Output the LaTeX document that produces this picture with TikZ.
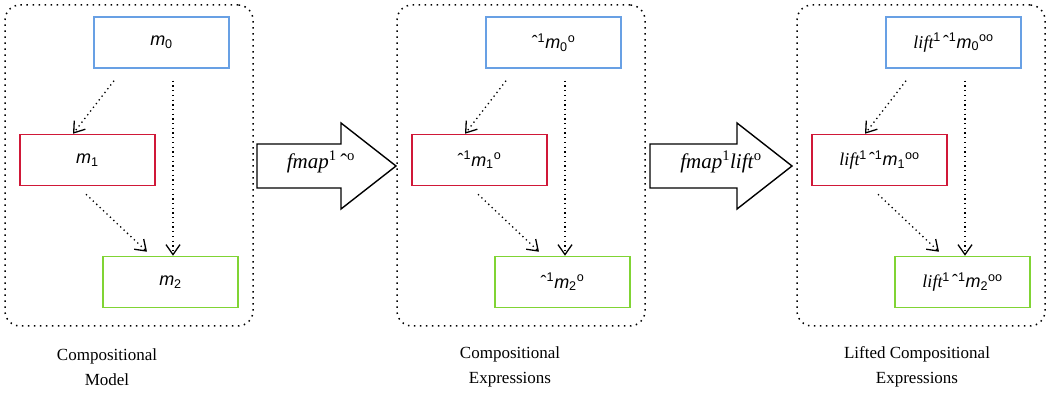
\documentclass[tikz,border=0pt]{standalone}
\usepackage{fontspec}
\setmainfont{Liberation Serif}
\setsansfont{Liberation Sans}
\usepackage{tikz}
\usetikzlibrary{arrows.meta}
\usetikzlibrary{calc}
\definecolor{mblue}{RGB}{104,160,228}
\definecolor{mred}{RGB}{208,24,56}
\definecolor{mgreen}{RGB}{128,212,52}
\tikzset{
  frame/.style = {draw, line width=1.5pt, dash pattern=on 1.5pt off 4.5pt,
    rounded corners=15pt, minimum width=248pt, minimum height=321pt}
}
\tikzset{
  mbox/.style = {draw=#1, line width=1.5pt, fill=white, minimum width=135pt,
    minimum height=51pt, inner sep=0pt, font=\fontsize{18}{20}\selectfont\sffamily}
}
\tikzset{
  flow/.style = {line width=1.3pt, dash pattern=on 1.3pt off 3.4pt,
    -{Straight Barb[length=10pt, width=14pt, line width=1.3pt]}}
}
\tikzset{
  fatarrow/.style = {draw, line width=1.4pt, fill=white, line join=miter}
}
\tikzset{
  caption/.style = {align=center, font=\fontsize{17}{25}\selectfont}
}
\newcommand{\enc}[1]{ˆ\textsuperscript{1}\textit{m}\textsubscript{#1}\textsuperscript{o}}
\newcommand{\lifted}[1]{{\rmfamily\itshape lift}\textsuperscript{1}\kern2pt ˆ\textsuperscript{1}\textit{m}\textsubscript{#1}\textsuperscript{oo}}
% one dotted group: shift, prefix, three box texts, caption x, caption
\newcommand{\drawgroup}[7]{
  \begin{scope}[xshift=#1]
    \node[frame] (#2f) at (129,165.5) {};
    \node[mbox=mblue] (#2a) at (161.5,42.5) {#3};
    \node[mbox=mred] (#2b) at (87.5,160) {#4};
    \node[mbox=mgreen] (#2c) at (170.5,282) {#5};
    \draw[flow] ([xshift=-47.5pt,yshift=-12pt]#2a.south) -- ([xshift=-14.5pt]#2b.north);
    \draw[flow] ([xshift=11.5pt,yshift=-12pt]#2a.south) -- ([xshift=11.5pt]#2a.south |- #2c.north);
    \draw[flow] ([xshift=-1.5pt,yshift=-8pt]#2b.south) -- ([xshift=-23.5pt,yshift=4pt]#2c.north);
  \end{scope}
  \node[caption] (#2t) at (#6,367) {#7};
}
% wide arrow between groups: left, head base, tip, name, label x, label
\newcommand{\drawstep}[6]{
  \draw[fatarrow] (#1,144) -- (#2,144) -- (#2,123) -- (#3,166) -- (#2,209)
    -- (#2,188) -- (#1,188) -- cycle;
  \node[font=\fontsize{21}{24}\selectfont] (#4) at (#5,162) {#6};
}

\begin{document}
\begin{tikzpicture}[x=1pt, y=-1pt]
  \useasboundingbox (0,0) rectangle (1050,395);

  \drawgroup{0pt}{g}{\textit{m}\textsubscript{0}}{\textit{m}\textsubscript{1}}%
    {\textit{m}\textsubscript{2}}{107}{Compositional\\Model}
  \drawgroup{392pt}{h}{\enc{0}}{\enc{1}}{\enc{2}}{510}{Compositional\\Expressions}
  \drawgroup{792pt}{k}{\lifted{0}}{\lifted{1}}{\lifted{2}}{917}%
    {Lifted Compositional\\Expressions}

  \drawstep{257}{341}{396}{s1}{321}{\textit{fmap}\textsuperscript{1}\,ˆ\textsuperscript{o}}
  \drawstep{650}{737}{792}{s2}{721}{\textit{fmap}\textsuperscript{1}\textit{lift}\textsuperscript{o}}
\end{tikzpicture}
\end{document}
